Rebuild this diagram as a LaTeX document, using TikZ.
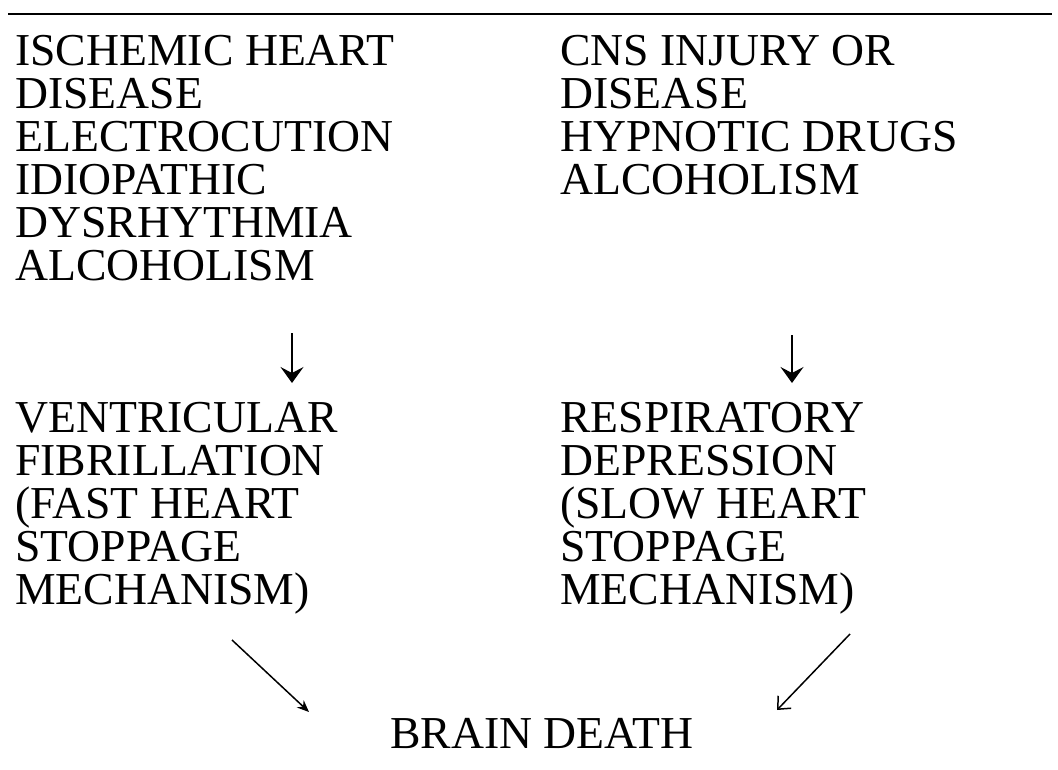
\documentclass[tikz,border=0pt]{standalone}
\usepackage{fontspec}
\setmainfont{Liberation Serif}
\usetikzlibrary{arrows.meta, positioning, calc}

\begin{document}
\begin{tikzpicture}[x=0.02cm, y=-0.02cm,
  every node/.style={font=\fontsize{26}{24.5}\selectfont, inner sep=0pt,
    align=left, anchor=north west},
  >=Stealth,
  arrow/.style={-{Stealth[length=0.32cm, width=0.46cm, inset=0.12cm]},
    line width=0.85pt, shorten >=0.38cm},
  slantl/.style={-{Stealth[length=0.24cm, width=0.2cm]}, line width=0.85pt},
  slantr/.style={-{Straight Barb[length=0.2cm, width=0.36cm]}, line width=0.85pt}
]
\useasboundingbox (0,0) rectangle (1058,770);
\draw[line width=1.2pt] (8,14) -- (1052,14);

\node (causeL) at (15,35) {ISCHEMIC HEART\\DISEASE\\ELECTROCUTION\\IDIOPATHIC\\DYSRHYTHMIA\\ALCOHOLISM};
\node (causeR) at (560,35) {CNS INJURY OR\\DISEASE\\HYPNOTIC DRUGS\\ALCOHOLISM};
\node (mechL) at (15,402) {VENTRICULAR\\FIBRILLATION\\(FAST HEART\\STOPPAGE\\MECHANISM)};
\node (mechR) at (560,402) {RESPIRATORY\\DEPRESSION\\(SLOW HEART\\STOPPAGE\\MECHANISM)};
\node[anchor=center] (death) at (542,733) {BRAIN DEATH};

% arrow start points
\coordinate (downL) at (292,333);
\coordinate (downR) at (792,335);
\coordinate (fromL) at (232,640);
\coordinate (toL) at (309,712);
\coordinate (fromR) at (850,634);
\coordinate (toR) at (777,710);

\draw[arrow] (downL) -- (downL |- mechL.north);
\draw[arrow] (downR) -- (downR |- mechR.north);
\draw[slantl] (fromL) -- (toL);
\draw[slantr] (fromR) -- (toR);
\end{tikzpicture}
\end{document}
